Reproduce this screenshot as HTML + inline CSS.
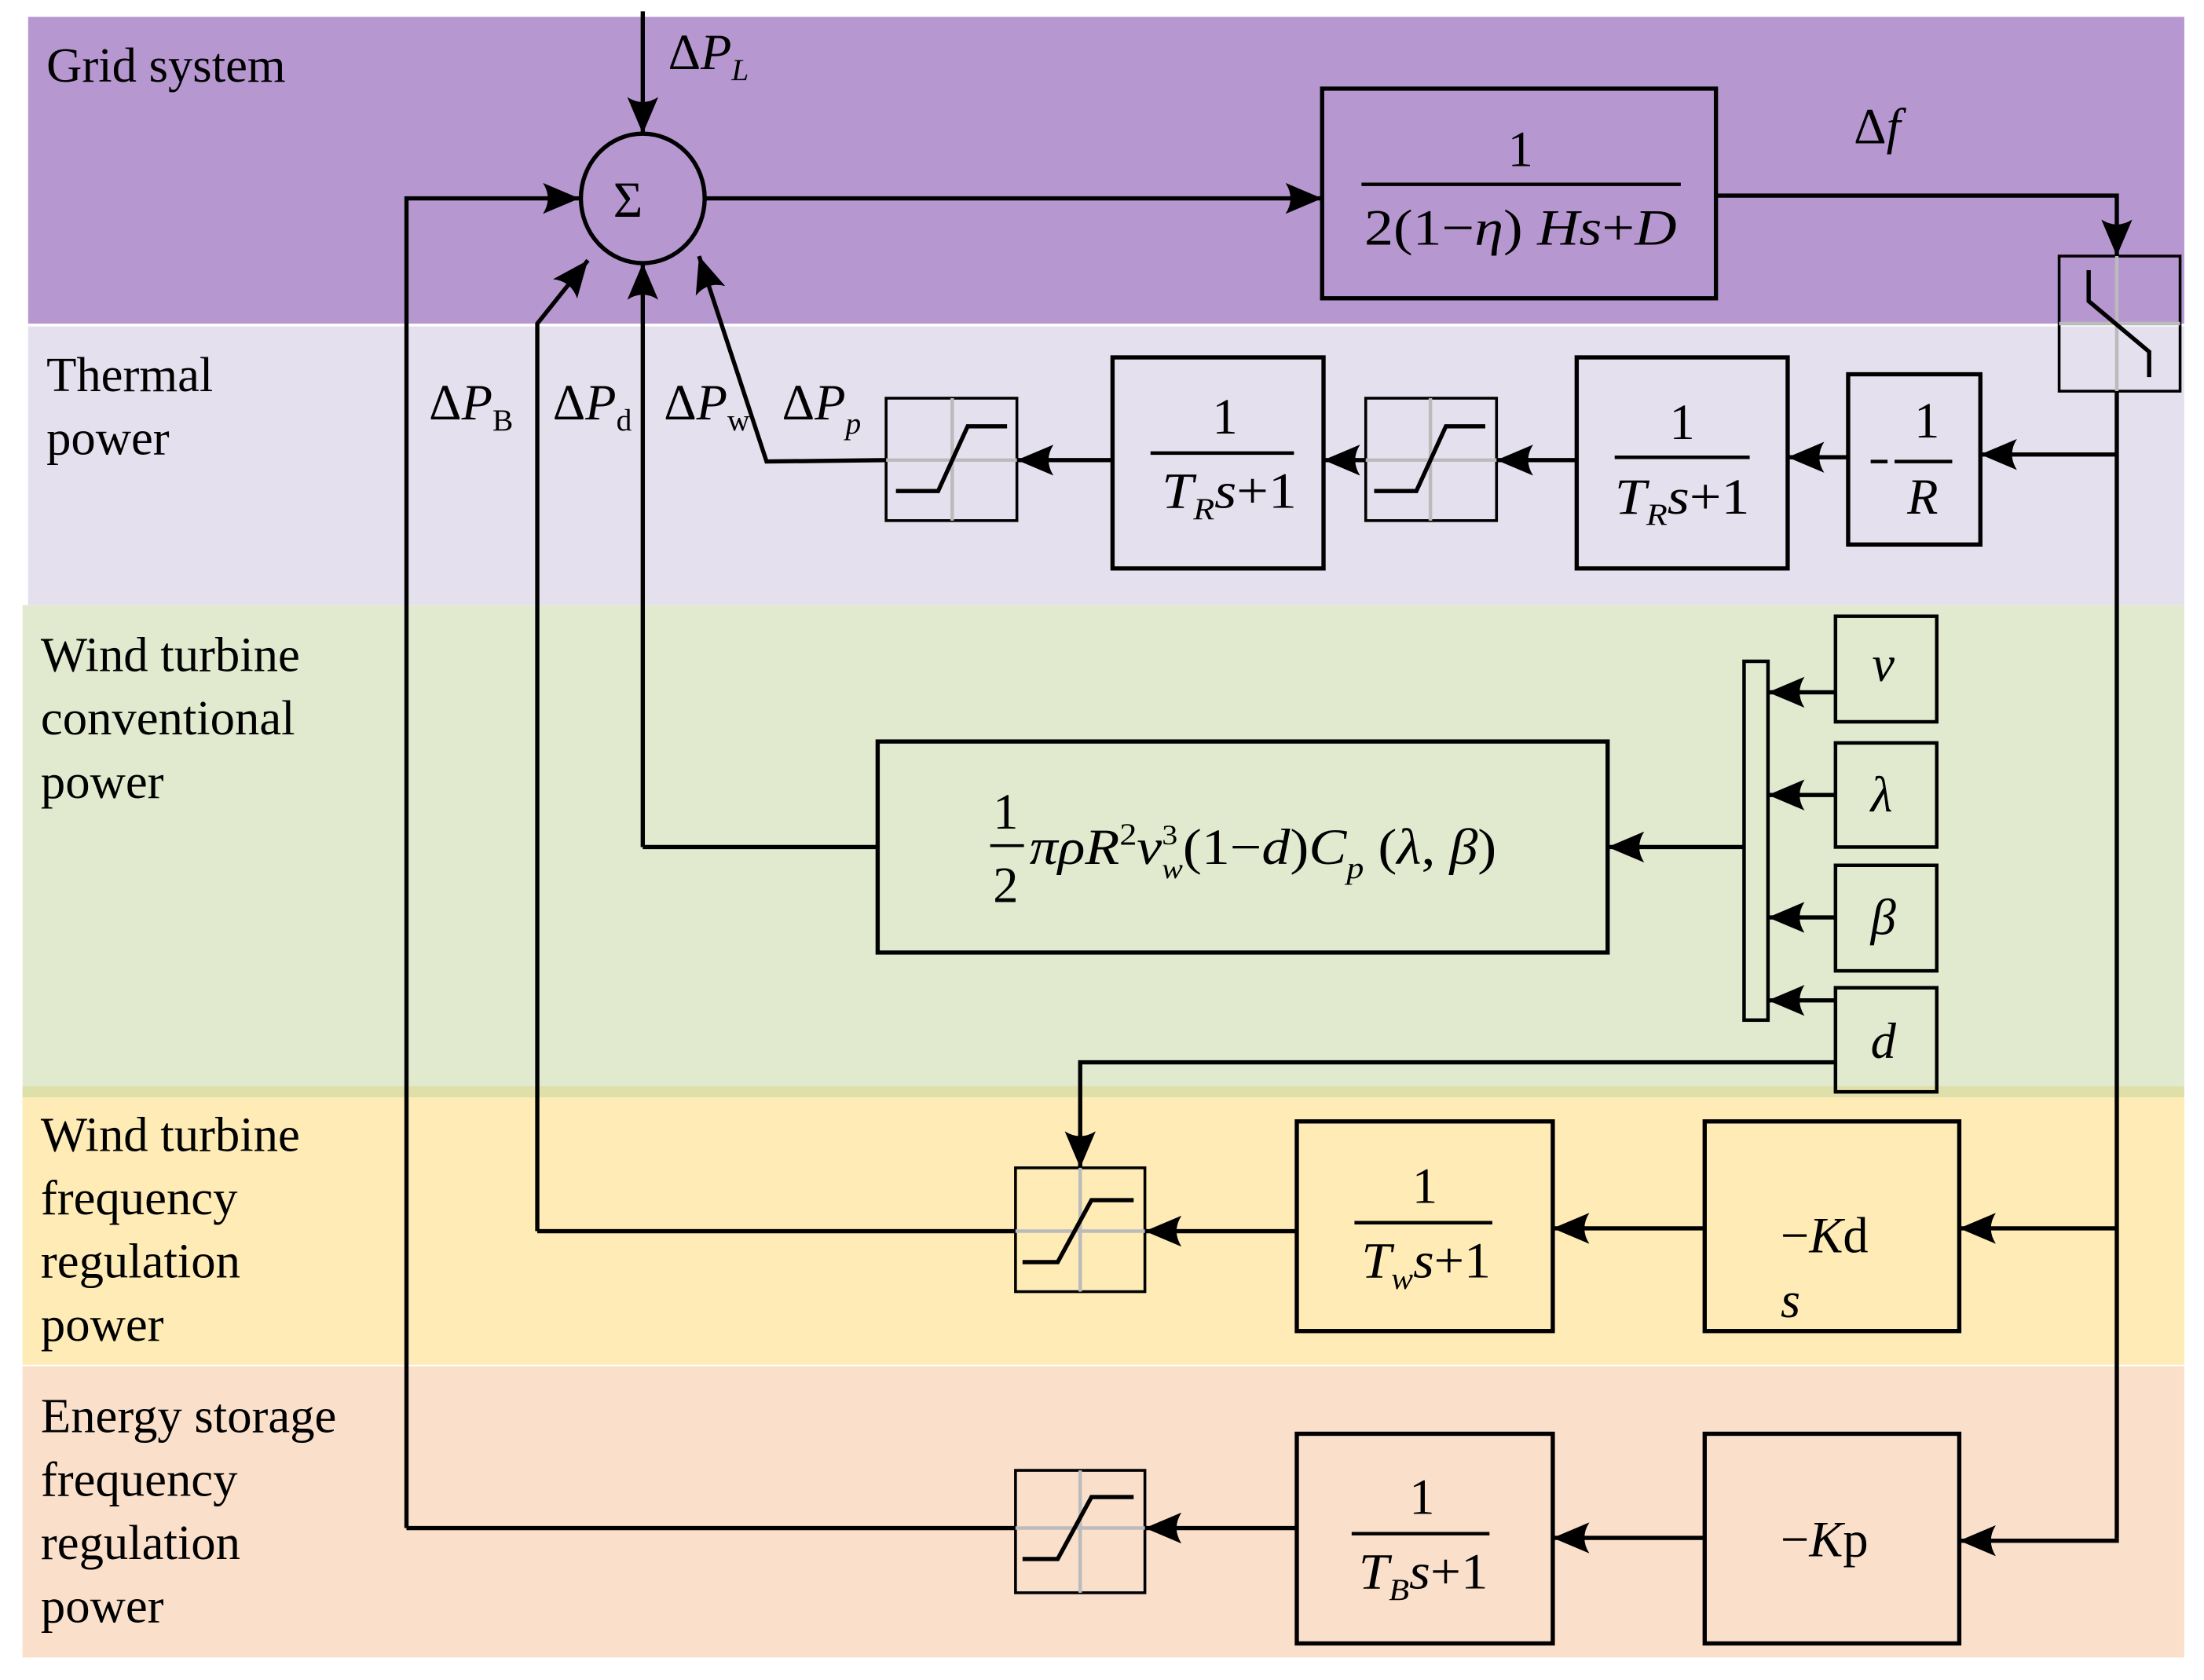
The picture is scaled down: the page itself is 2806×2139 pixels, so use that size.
<!DOCTYPE html>
<html><head><meta charset="utf-8"><style>
html,body{margin:0;padding:0;background:#fff}
svg{display:block}
text{font-family:"Liberation Serif",serif;fill:#000}
.i{font-style:italic}
</style></head><body>
<svg width="2806" height="2139" viewBox="0 0 1567 1194" preserveAspectRatio="none" xmlns="http://www.w3.org/2000/svg">
<defs>
<marker id="a" viewBox="0 0 26 22" refX="26" refY="11" markerWidth="26" markerHeight="22" markerUnits="userSpaceOnUse" orient="auto">
<path d="M0,0 L26,11 L0,22 Q7,11 0,0Z" fill="#000"/></marker>
</defs>
<rect x="20" y="12" width="1533" height="218" fill="#b697d0"/>
<rect x="20" y="232" width="1533" height="198" fill="#e5e0ee"/>
<rect x="16" y="430" width="1537" height="342" fill="#e1eacf"/>
<rect x="16" y="772" width="1537" height="8" fill="#dfdfaa"/>
<rect x="16" y="780" width="1537" height="190" fill="#feebb5"/>
<rect x="16" y="971" width="1537" height="207" fill="#fae0cb"/>

<g font-size="35">
<text x="33" y="58">Grid system</text>
<text x="33" y="278">Thermal</text><text x="33" y="323">power</text>
<text x="29" y="477">Wind turbine</text><text x="29" y="522">conventional</text><text x="29" y="567">power</text>
<text x="29" y="818">Wind turbine</text><text x="29" y="863">frequency</text><text x="29" y="908">regulation</text><text x="29" y="953">power</text>
<text x="29" y="1018">Energy storage</text><text x="29" y="1063">frequency</text><text x="29" y="1108">regulation</text><text x="29" y="1153">power</text>
</g>

<g stroke="#000" stroke-width="3" fill="none">
<ellipse cx="457" cy="141" rx="44" ry="46"/>
<line x1="457" y1="8" x2="457" y2="95" marker-end="url(#a)"/>
<line x1="502" y1="141" x2="940" y2="141" marker-end="url(#a)"/>
<rect x="940" y="63" width="280" height="149"/>
<polyline points="1220,139 1505,139 1505,182" marker-end="url(#a)"/>
<rect x="1464" y="182" width="86" height="96" stroke-width="2"/>
<line x1="1505" y1="278" x2="1505" y2="1093"/>
<polyline points="1505,323 1408,323" marker-end="url(#a)"/>
<rect x="1314" y="266" width="94" height="121"/>
<line x1="1314" y1="325" x2="1271" y2="325" marker-end="url(#a)"/>
<rect x="1121" y="254" width="150" height="150"/>
<line x1="1121" y1="327" x2="1064" y2="327" marker-end="url(#a)"/>
<rect x="971" y="283" width="93" height="87" stroke-width="2"/>
<line x1="971" y1="327" x2="941" y2="327" marker-end="url(#a)"/>
<rect x="791" y="254" width="150" height="150"/>
<line x1="791" y1="327" x2="723" y2="327" marker-end="url(#a)"/>
<rect x="630" y="283" width="93" height="87" stroke-width="2"/>
<polyline points="630,327 545,328 497,182" marker-end="url(#a)"/>
<polyline points="457,602 457,187" marker-end="url(#a)"/>
<polyline points="624,602 457,602"/>
<rect x="624" y="527" width="519" height="150"/>
<polyline points="382,875 382,230 418,185" marker-end="url(#a)"/>
<polyline points="289,1086 289,141 412,141" marker-end="url(#a)"/>
<rect x="1240" y="470" width="17" height="255" stroke-width="2.5"/>
<line x1="1240" y1="602" x2="1143" y2="602" marker-end="url(#a)"/>
<rect x="1305" y="438" width="72" height="75" stroke-width="2.5"/>
<rect x="1305" y="528" width="72" height="74" stroke-width="2.5"/>
<rect x="1305" y="615" width="72" height="75" stroke-width="2.5"/>
<rect x="1305" y="702" width="72" height="74" stroke-width="2.5"/>
<line x1="1305" y1="492" x2="1257" y2="492" marker-end="url(#a)"/>
<line x1="1305" y1="565" x2="1257" y2="565" marker-end="url(#a)"/>
<line x1="1305" y1="652" x2="1257" y2="652" marker-end="url(#a)"/>
<line x1="1305" y1="711" x2="1257" y2="711" marker-end="url(#a)"/>
<polyline points="1305,755 768,755 768,830" marker-end="url(#a)"/>
<rect x="722" y="830" width="92" height="88" stroke-width="2"/>
<line x1="1505" y1="873" x2="1393" y2="873" marker-end="url(#a)"/>
<rect x="1212" y="797" width="181" height="149"/>
<line x1="1212" y1="873" x2="1104" y2="873" marker-end="url(#a)"/>
<rect x="922" y="797" width="182" height="149"/>
<line x1="922" y1="875" x2="814" y2="875" marker-end="url(#a)"/>
<line x1="722" y1="875" x2="382" y2="875"/>
<polyline points="1505,1093 1505,1095 1393,1095" marker-end="url(#a)"/>
<rect x="1212" y="1019" width="181" height="149"/>
<line x1="1212" y1="1093" x2="1104" y2="1093" marker-end="url(#a)"/>
<rect x="922" y="1019" width="182" height="149"/>
<line x1="922" y1="1086" x2="814" y2="1086" marker-end="url(#a)"/>
<rect x="722" y="1045" width="92" height="87" stroke-width="2"/>
<line x1="722" y1="1086" x2="289" y2="1086"/>
</g>
<g stroke="#bbb" stroke-width="2.5" fill="none">
<line x1="1505" y1="182" x2="1505" y2="278"/><line x1="1464" y1="230" x2="1550" y2="230"/>
<line x1="677" y1="283" x2="677" y2="370"/><line x1="630" y1="327" x2="723" y2="327"/>
<line x1="1017" y1="283" x2="1017" y2="370"/><line x1="971" y1="327" x2="1064" y2="327"/>
<line x1="768" y1="830" x2="768" y2="918"/><line x1="722" y1="875" x2="814" y2="875"/>
<line x1="768" y1="1045" x2="768" y2="1132"/><line x1="722" y1="1086" x2="814" y2="1086"/>
</g>
<g stroke="#000" stroke-width="3" fill="none">
<polyline points="1485,192 1485,214 1528,250 1528,268"/>
<polyline points="637,349 667,349 688,303 716,303"/>
<polyline points="977,349 1007,349 1028,303 1056,303"/>
<polyline points="727,897 752,897 776,853 806,853"/>
<polyline points="727,1108 752,1108 776,1064 806,1064"/>
<line x1="968" y1="131" x2="1195" y2="131" stroke-width="2.5"/>
<line x1="1347" y1="328" x2="1388" y2="328" stroke-width="2.5"/>
<line x1="1330" y1="328" x2="1342" y2="328" stroke-width="2.5"/>
<line x1="1148" y1="325" x2="1244" y2="325" stroke-width="2.5"/>
<line x1="818" y1="322" x2="920" y2="322" stroke-width="2.5"/>
<line x1="704" y1="601" x2="728" y2="601" stroke-width="2"/>
<line x1="963" y1="869" x2="1061" y2="869" stroke-width="2.5"/>
<line x1="961" y1="1090" x2="1059" y2="1090" stroke-width="2.5"/>
</g>

<g font-size="36">
<text x="436" y="154">Σ</text>
<text x="475" y="49">Δ<tspan class="i">P</tspan><tspan class="i" font-size="22" dy="8">L</tspan></text>
<text x="1318" y="102">Δ<tspan class="i">f</tspan></text>
<text x="1072" y="118">1</text>
<text x="970" y="174" textLength="222" lengthAdjust="spacingAndGlyphs">2(1−<tspan class="i">η</tspan>) <tspan class="i">Hs</tspan>+<tspan class="i">D</tspan></text>
<text x="1361" y="311">1</text>
<text x="1356" y="365" class="i">R</text>
<text x="1187" y="312">1</text>
<text x="1148" y="365" textLength="96" lengthAdjust="spacingAndGlyphs"><tspan class="i">T</tspan><tspan class="i" font-size="22" dy="8">R</tspan><tspan class="i" dy="-8">s</tspan>+1</text>
<text x="862" y="308">1</text>
<text x="826" y="361" textLength="96" lengthAdjust="spacingAndGlyphs"><tspan class="i">T</tspan><tspan class="i" font-size="22" dy="8">R</tspan><tspan class="i" dy="-8">s</tspan>+1</text>
<text x="305" y="298">Δ<tspan class="i">P</tspan><tspan font-size="22" dy="8">B</tspan></text>
<text x="393" y="298">Δ<tspan class="i">P</tspan><tspan font-size="22" dy="8">d</tspan></text>
<text x="472" y="298">Δ<tspan class="i">P</tspan><tspan font-size="22" dy="8">w</tspan></text>
<text x="556" y="298">Δ<tspan class="i">P</tspan><tspan class="i" font-size="22" dy="10">p</tspan></text>
<text x="706" y="589">1</text>
<text x="706" y="641">2</text>
<text x="732" y="614" textLength="332" lengthAdjust="spacingAndGlyphs"><tspan class="i">πρR</tspan><tspan font-size="22" dy="-14">2</tspan><tspan class="i" dy="14">v</tspan><tspan font-size="20" dy="-14">3</tspan><tspan class="i" font-size="20" dx="-10" dy="24">w</tspan><tspan dy="-10">(1−</tspan><tspan class="i">d</tspan>)<tspan class="i">C</tspan><tspan class="i" font-size="22" dy="10">p</tspan><tspan dy="-10"> (</tspan><tspan class="i">λ</tspan>, <tspan class="i">β</tspan>)</text>
<text x="1331" y="484" class="i">v</text>
<text x="1330" y="577" class="i">λ</text>
<text x="1330" y="664" class="i">β</text>
<text x="1330" y="752" class="i">d</text>
<text x="1004" y="855">1</text>
<text x="968" y="908" textLength="92" lengthAdjust="spacingAndGlyphs"><tspan class="i">T</tspan><tspan class="i" font-size="22" dy="8">w</tspan><tspan class="i" dy="-8">s</tspan>+1</text>
<text x="1266" y="890">−<tspan class="i">K</tspan>d</text>
<text x="1266" y="936" class="i">s</text>
<text x="1002" y="1076">1</text>
<text x="966" y="1129" textLength="92" lengthAdjust="spacingAndGlyphs"><tspan class="i">T</tspan><tspan class="i" font-size="22" dy="8">B</tspan><tspan class="i" dy="-8">s</tspan>+1</text>
<text x="1266" y="1106">−<tspan class="i">K</tspan>p</text>
</g>
</svg>
</body></html>
